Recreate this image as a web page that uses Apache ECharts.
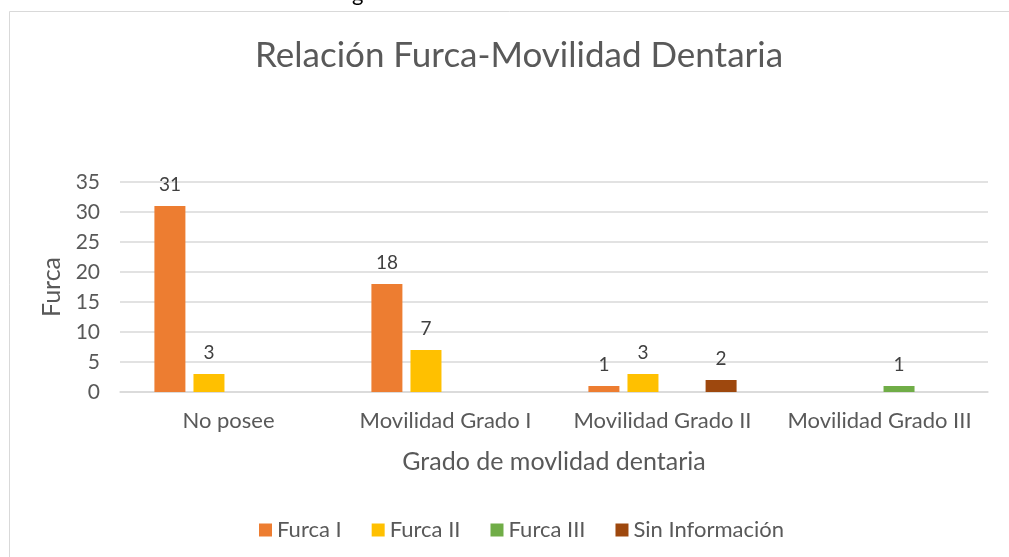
<!DOCTYPE html>
<html><head><meta charset="utf-8">
<script src="https://cdn.jsdelivr.net/npm/echarts@6/dist/echarts.min.js"></script>
<style>html,body{margin:0;padding:0;background:#fff}#c{width:1009px;height:557px}</style>
</head><body><div id="c"></div>
<script>
const categories = ['No posee', 'Movilidad Grado I', 'Movilidad Grado II', 'Movilidad Grado III'];
const furcaI = [31, 18, 1, null];
const furcaII = [3, 7, 3, null];
const furcaIII = [null, null, null, 1];
const sinInfo = [null, null, 2, null];
const yTicks = [0, 5, 10, 15, 20, 25, 30, 35];

const font = 'Lato, "Open Sans", sans-serif';
const chart = echarts.init(document.getElementById('c'));
const mk = (name, data, color) => ({
  name, type: 'bar', data, barWidth: 31, barGap: '26%',
  itemStyle: { color },
  label: { show: true, position: 'top', distance: 12, color: '#404040', fontSize: 19, fontFamily: font }
});
chart.setOption({
  animation: false,
  graphic: [
    { type: 'rect', shape: { x: 9.5, y: 11.5, width: 1010, height: 600 }, style: { fill: 'none', stroke: '#d9d9d9', lineWidth: 1 } },
    { type: 'text', x: 352, y: 5, style: { text: 'g', fontSize: 22, fill: '#000', fontFamily: font, textVerticalAlign: 'bottom' } }
  ],
  title: { text: 'Relación Furca-Movilidad Dentaria', left: 250, top: 33, textStyle: { fontSize: 35, fontWeight: 'normal', color: '#595959', fontFamily: font } },
  legend: { bottom: 11, left: 254, itemWidth: 13, itemHeight: 13, itemGap: 30, icon: 'rect',
    textStyle: { fontSize: 22, color: '#595959', fontFamily: font } },
  grid: { left: 120, right: 21, top: 182, bottom: 165 },
  xAxis: { type: 'category', data: categories, name: 'Grado de movlidad dentaria', nameLocation: 'middle', nameGap: 57,
    nameTextStyle: { fontSize: 25, color: '#595959', fontFamily: font },
    axisLine: { lineStyle: { color: '#d9d9d9', width: 1.5 } }, axisTick: { show: false },
    axisLabel: { interval: 0, fontSize: 22, color: '#595959', fontFamily: font, margin: 18 } },
  yAxis: { type: 'value', min: 0, max: 35, interval: 5, name: 'Furca', nameLocation: 'middle', nameGap: 56,
    nameTextStyle: { fontSize: 25, color: '#595959', fontFamily: font },
    axisLine: { show: false }, axisTick: { show: false },
    axisLabel: { fontSize: 21, color: '#595959', fontFamily: font, margin: 20,
      formatter: v => yTicks.includes(v) ? String(v) : '' },
    splitLine: { lineStyle: { color: '#d9d9d9', width: 1.5 } } },
  series: [
    mk('Furca I', furcaI, '#ED7D31'),
    mk('Furca II', furcaII, '#FFC000'),
    mk('Furca III', furcaIII, '#70AD47'),
    mk('Sin Información', sinInfo, '#9E480E')
  ]
});
</script></body></html>
